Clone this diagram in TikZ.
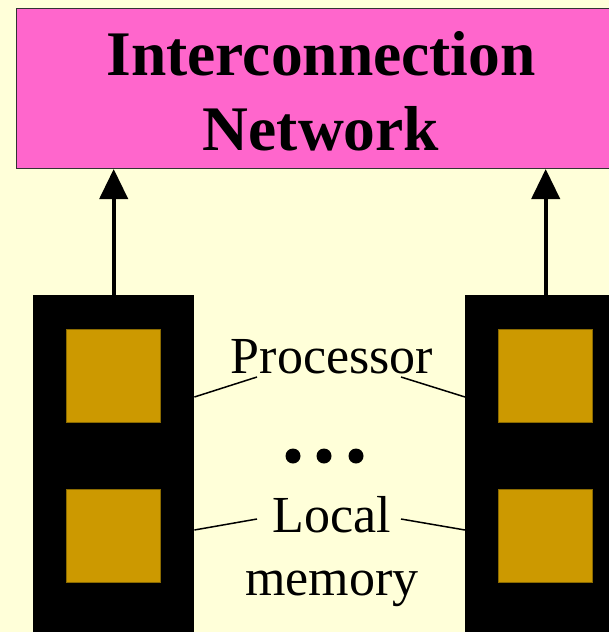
\documentclass[tikz,border=0pt]{standalone}
\usepackage{fontspec}
\setmainfont{Liberation Serif}
\usetikzlibrary{arrows.meta}
\definecolor{paper}{HTML}{FFFFD9}
\definecolor{netpink}{HTML}{FF66CC}
\definecolor{cellgold}{HTML}{CC9900}
\definecolor{celledge}{HTML}{8A6A00}
\begin{document}
\begin{tikzpicture}[x=1pt,y=-1pt,
  netbox/.style={draw=black!80, line width=1pt, fill=netpink, inner sep=0pt,
    minimum width=620pt, minimum height=160pt, anchor=north west},
  headtext/.style={font=\fontsize{63.5}{75}\selectfont\bfseries, inner sep=0pt, anchor=base},
  colbox/.style={fill=black, inner sep=0pt, minimum width=161pt, minimum height=360pt, anchor=north west},
  cellbox/.style={fill=cellgold, draw=celledge, line width=0.8pt, inner sep=0pt,
    minimum width=94pt, minimum height=93pt, anchor=north west},
  lbltext/.style={font=\fontsize{52}{63}\selectfont, inner sep=0pt, anchor=base},
  uplink/.style={line width=4pt, -{Triangle[length=30pt,width=28pt]}},
  leader/.style={line width=1.5pt}]
\useasboundingbox (0,0) rectangle (609,632);
\fill[paper] (0,0) rectangle (609,632);
\clip (0,0) rectangle (609,632);

% interconnection network
\node[netbox] (net) at (16,8) {};
\node[headtext] (t1) at (321,75) {Interconnection};
\node[headtext] (t2) at (321,150) {Network};

% processing elements
\node[colbox] (c1) at (33,295) {};
\node[colbox] (c2) at (465,295) {};
\node[cellbox] (p1) at (66,329) {};
\node[cellbox] (m1) at (66,489) {};
\node[cellbox] (p2) at (498,329) {};
\node[cellbox] (m2) at (498,489) {};

% links to the network
\draw[uplink] (c1.north) -- (c1.north |- net.south);
\draw[uplink] (c2.north) -- (c2.north |- net.south);

% labels
\node[lbltext] (proc) at (332,373) {Processor};
\node[lbltext] (loc) at (332,532) {Local};
\node[lbltext] (mem) at (332,595) {memory};
\foreach \x in {293,324,356} \fill (\x,456) circle (7.5pt);

% leader lines
\coordinate (pa) at (257,377);
\coordinate (pb) at (401,377);
\coordinate (la) at (257,519);
\coordinate (lb) at (401,519);
\draw[leader] (pa) -- (c1.north east |- 0,397);
\draw[leader] (pb) -- (c2.north west |- 0,397);
\draw[leader] (la) -- (c1.north east |- 0,530);
\draw[leader] (lb) -- (c2.north west |- 0,530);
\end{tikzpicture}
\end{document}
